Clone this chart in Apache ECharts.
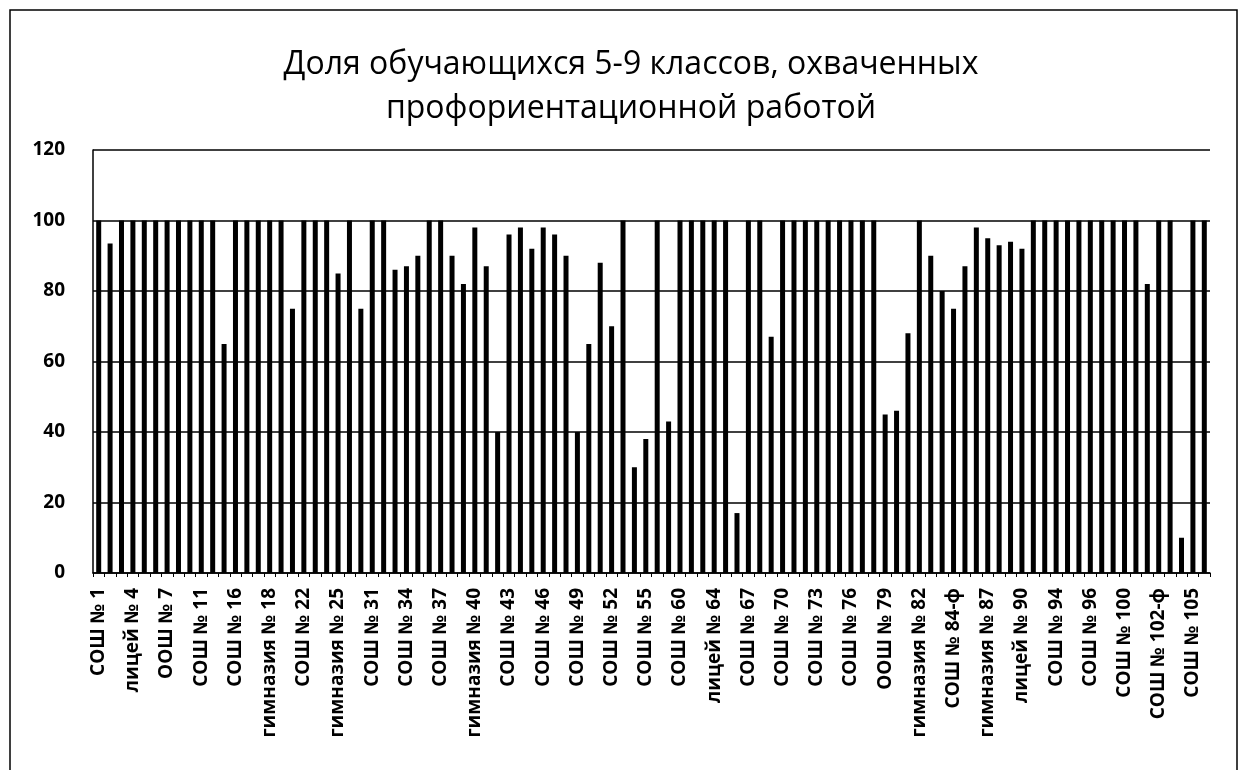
<!DOCTYPE html>
<html lang="ru">
<head>
    <meta charset="UTF-8">
    <title>Доля обучающихся 5-9 классов</title>
    <script src="https://cdn.jsdelivr.net/npm/echarts@6/dist/echarts.min.js"></script>
    <style>
        html, body { margin: 0; padding: 0; background: #ffffff; }
        #main { width: 1243px; height: 770px; }
    </style>
</head>
<body>
<div id="main"></div>
<script type="text/javascript">
    // школы (подписана каждая третья)
    var schools = [
        'СОШ № 1', 'СОШ № 2', 'СОШ № 3', 'лицей № 4', 'СОШ № 5', 'СОШ № 6', 'ООШ № 7', 'СОШ № 8', 'СОШ № 10',
        'СОШ № 11', 'СОШ № 12', 'СОШ № 14', 'СОШ № 16', 'СОШ № 17', 'лицей № 17', 'гимназия № 18', 'СОШ № 19', 'СОШ № 20',
        'СОШ № 22', 'СОШ № 23', 'СОШ № 24', 'гимназия № 25', 'СОШ № 26', 'СОШ № 28', 'СОШ № 31', 'СОШ № 32', 'СОШ № 33',
        'СОШ № 34', 'СОШ № 35', 'СОШ № 36', 'СОШ № 37', 'СОШ № 38', 'СОШ № 39', 'гимназия № 40', 'СОШ № 41', 'СОШ № 42',
        'СОШ № 43', 'СОШ № 44', 'СОШ № 45', 'СОШ № 46', 'СОШ № 47', 'СОШ № 48', 'СОШ № 49', 'СОШ № 50', 'СОШ № 51',
        'СОШ № 52', 'СОШ № 53', 'СОШ № 54', 'СОШ № 55', 'СОШ № 56', 'СОШ № 58', 'СОШ № 60', 'СОШ № 62', 'СОШ № 63',
        'лицей № 64', 'СОШ № 65', 'СОШ № 66', 'СОШ № 67', 'СОШ № 68', 'СОШ № 69', 'СОШ № 70', 'СОШ № 71', 'СОШ № 72',
        'СОШ № 73', 'СОШ № 74', 'СОШ № 75', 'СОШ № 76', 'СОШ № 77', 'СОШ № 78', 'ООШ № 79', 'СОШ № 80', 'СОШ № 81',
        'гимназия № 82', 'СОШ № 83', 'СОШ № 84', 'СОШ № 84-ф', 'СОШ № 85', 'СОШ № 86', 'гимназия № 87', 'СОШ № 88', 'СОШ № 89',
        'лицей № 90', 'СОШ № 92', 'СОШ № 93', 'СОШ № 94', 'СОШ № 95', 'СОШ № 95-ф', 'СОШ № 96', 'СОШ № 97', 'СОШ № 98',
        'СОШ № 100', 'СОШ № 101', 'СОШ № 102', 'СОШ № 102-ф', 'СОШ № 103', 'СОШ № 104', 'СОШ № 105', 'СОШ № 106'
    ];

    // доля охваченных, %
    var shares = [
        100, 93.5, 100, 100, 100, 100, 100, 100, 100,
        100, 100, 65, 100, 100, 100, 100, 100, 75,
        100, 100, 100, 85, 100, 75, 100, 100, 86,
        87, 90, 100, 100, 90, 82, 98, 87, 40,
        96, 98, 92, 98, 96, 90, 40, 65, 88,
        70, 100, 30, 38, 100, 43, 100, 100, 100,
        100, 100, 17, 100, 100, 67, 100, 100, 100,
        100, 100, 100, 100, 100, 100, 45, 46, 68,
        100, 90, 80, 75, 87, 98, 95, 93, 94,
        92, 100, 100, 100, 100, 100, 100, 100, 100,
        100, 100, 82, 100, 100, 10, 100, 100
    ];

    var yTicks = [0, 20, 40, 60, 80, 100, 120];

    var fontFam = "'Open Sans', 'Noto Sans', sans-serif";

    var myChart = echarts.init(document.getElementById('main'));

    var option = {
        backgroundColor: '#ffffff',
        animation: false,
        title: {
            text: 'Доля обучающихся 5-9 классов, охваченных\nпрофориентационной работой',
            left: 626,
            textAlign: 'center',
            top: 38,
            textStyle: {
                color: '#000',
                fontFamily: fontFam,
                fontWeight: 'normal',
                fontSize: 32,
                lineHeight: 44
            }
        },
        graphic: [
            {
                type: 'rect',
                shape: { x: 10, y: 10, width: 1227, height: 800 },
                style: { fill: 'none', stroke: '#000', lineWidth: 1.5 },
                silent: true
            }
        ],
        grid: {
            left: 93,
            right: 33,
            top: 150,
            bottom: 197
        },
        xAxis: {
            type: 'category',
            data: schools,
            axisLine: { show: true, lineStyle: { color: '#000', width: 1.5 } },
            axisTick: { show: true, interval: 0, length: 4, lineStyle: { color: '#000' } },
            axisLabel: {
                interval: 2,
                rotate: 90,
                color: '#000',
                fontFamily: fontFam,
                fontWeight: 'bold',
                fontSize: 19,
                margin: 15
            },
            splitLine: { show: false }
        },
        yAxis: {
            type: 'value',
            min: yTicks[0],
            max: yTicks[yTicks.length - 1],
            interval: 20,
            axisLine: { show: true, lineStyle: { color: '#000', width: 1.5 } },
            axisTick: { show: false },
            axisLabel: {
                color: '#000',
                fontFamily: fontFam,
                fontWeight: 'bold',
                fontSize: 19,
                margin: 28
            },
            splitLine: { show: true, lineStyle: { color: '#000', width: 1.5 } }
        },
        series: [
            {
                name: 'Доля',
                type: 'bar',
                data: shares,
                barWidth: 5,
                itemStyle: { color: '#000' }
            }
        ]
    };

    myChart.setOption(option);
</script>
</body>
</html>
